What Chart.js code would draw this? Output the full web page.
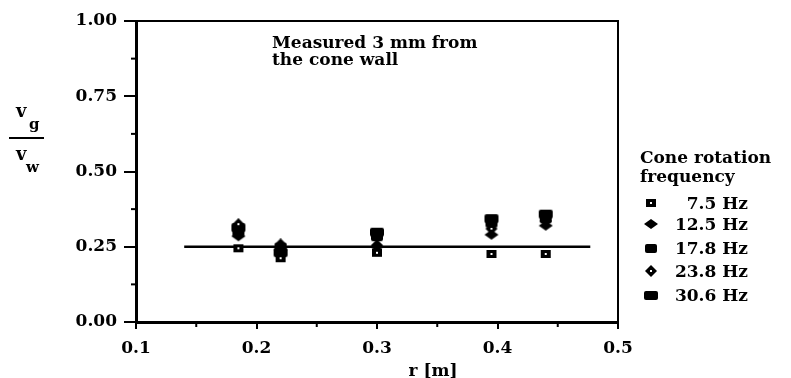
<!DOCTYPE html>
<html>
<head>
<meta charset="utf-8">
<script src="https://cdn.jsdelivr.net/npm/chart.js@4/dist/chart.umd.min.js"></script>
<style>
  html, body { margin: 0; padding: 0; background: #fff; }
  #wrap { width: 791px; height: 378px; }
</style>
</head>
<body>
<div id="wrap"><canvas id="c" width="791" height="378"></canvas></div>
<script>
// Radial positions r [m] where the gas velocity ratio was measured
const radii = [0.185, 0.22, 0.30, 0.395, 0.44];

// v_g / v_w for each cone rotation frequency
const ratio7_5  = [0.245, 0.212, 0.230, 0.226, 0.226];
const ratio12_5 = [0.285, 0.240, 0.250, 0.290, 0.320];
const ratio17_8 = [0.300, 0.250, 0.285, 0.330, 0.345];
const ratio23_8 = [0.325, 0.258, 0.255, 0.310, 0.335];
const ratio30_6 = [0.315, 0.232, 0.300, 0.345, 0.360];

const freqLabels = ['7.5 Hz', '12.5 Hz', '17.8 Hz', '23.8 Hz', '30.6 Hz'];

// Reference level line
const refLineX = [0.14, 0.477];
const refLineY = [0.25, 0.25];

const xTicks = [0.1, 0.2, 0.3, 0.4, 0.5];
const yTicks = [0.00, 0.25, 0.50, 0.75, 1.00];
const xMinor = [0.15, 0.25, 0.35, 0.45];
const yMinor = [0.125, 0.375, 0.625, 0.875];

const SERIF = '"DejaVu Serif", "Liberation Serif", serif';

// Marker glyphs
function marker(kind) {
  const c = document.createElement('canvas');
  c.width = 16; c.height = 12;
  const g = c.getContext('2d');
  g.fillStyle = '#000';
  if (kind === 'sqHole') {
    g.fillRect(3, 2, 10, 8);
    g.fillStyle = '#fff';
    g.fillRect(7, 5, 2, 2);
  } else if (kind === 'diamond') {
    g.beginPath();
    g.moveTo(8, 1); g.lineTo(15, 6); g.lineTo(8, 11); g.lineTo(1, 6); g.closePath();
    g.fill();
  } else if (kind === 'sq') {
    g.beginPath();
    g.roundRect(2, 2, 12, 9, 2);
    g.fill();
  } else if (kind === 'diamondDot') {
    g.beginPath();
    g.moveTo(8, 0); g.lineTo(14, 6); g.lineTo(8, 12); g.lineTo(2, 6); g.closePath();
    g.fill();
    g.fillStyle = '#fff';
    g.fillRect(7, 5, 2, 2);
  } else {
    g.beginPath();
    g.roundRect(1, 2, 14, 9, 2);
    g.fill();
  }
  return c;
}
const markerKinds = ['sqHole', 'diamond', 'sq', 'diamondDot', 'sqWide'];
const seriesValues = [ratio7_5, ratio12_5, ratio17_8, ratio23_8, ratio30_6];

const scatterSets = seriesValues.map((vals, i) => ({
  type: 'scatter',
  label: freqLabels[i],
  data: radii.map((r, j) => ({ x: r, y: vals[j] })),
  pointStyle: marker(markerKinds[i]),
  pointRadius: 6,
  pointHoverRadius: 6,
  order: 1
}));

const refSet = {
  type: 'line',
  label: 'ref',
  data: refLineX.map((x, i) => ({ x, y: refLineY[i] })),
  borderColor: '#000',
  borderWidth: 2.5,
  pointRadius: 0,
  order: 2
};

// Box frame, minor ticks, annotation, y-axis fraction, x title and legend
const decor = {
  id: 'decor',
  afterDraw(chart) {
    const { ctx, chartArea: a, scales } = chart;
    const xs = scales.x, ys = scales.y;
    ctx.save();
    ctx.strokeStyle = '#000';
    ctx.lineCap = 'square';
    // top and right of the frame
    ctx.lineWidth = 2;
    ctx.beginPath();
    ctx.moveTo(a.left, a.top); ctx.lineTo(a.right, a.top); ctx.lineTo(a.right, a.bottom);
    ctx.stroke();
    // minor ticks
    yMinor.forEach(v => {
      const y = ys.getPixelForValue(v);
      ctx.beginPath(); ctx.moveTo(a.left - 4, y); ctx.lineTo(a.left, y); ctx.stroke();
    });
    xMinor.forEach(v => {
      const x = xs.getPixelForValue(v);
      ctx.beginPath(); ctx.moveTo(x, a.bottom); ctx.lineTo(x, a.bottom + 4); ctx.stroke();
    });

    ctx.fillStyle = '#000';
    ctx.textBaseline = 'alphabetic';
    // annotation in the plot
    ctx.font = 'bold 17px ' + SERIF;
    ctx.textAlign = 'left';
    ctx.fillText('Measured 3 mm from', 272, 48);
    ctx.fillText('the cone wall', 272, 65);

    // y-axis label as a fraction v_g / v_w
    ctx.font = 'bold 18px ' + SERIF;
    ctx.fillText('v', 16, 117);
    ctx.fillText('v', 16, 160);
    ctx.font = 'bold 15px ' + SERIF;
    ctx.fillText('g', 29, 129);
    ctx.fillText('w', 26, 172);
    ctx.lineWidth = 2;
    ctx.beginPath(); ctx.moveTo(10, 138); ctx.lineTo(43, 138); ctx.stroke();

    // x-axis title
    ctx.font = 'bold 17px ' + SERIF;
    ctx.textAlign = 'center';
    ctx.fillText('r [m]', 433, 376);

    // legend
    ctx.textAlign = 'left';
    ctx.fillText('Cone rotation', 640, 163);
    ctx.fillText('frequency', 640, 182);
    const rows = [203, 224, 248, 271, 295];
    chart.data.datasets.forEach(ds => {
      const i = freqLabels.indexOf(ds.label);
      if (i < 0) return;
      const y = rows[i];
      const img = ds.pointStyle;
      ctx.drawImage(img, 651 - img.width / 2, y - img.height / 2);
      ctx.textAlign = 'right';
      ctx.fillText(ds.label, 748, y + 6);
    });
    ctx.restore();
  }
};

new Chart(document.getElementById('c'), {
  data: { datasets: [...scatterSets, refSet] },
  options: {
    responsive: false,
    animation: false,
    events: [],
    layout: { padding: { left: 0, top: 21, right: 173, bottom: 0 } },
    plugins: { legend: { display: false }, tooltip: { enabled: false } },
    scales: {
      x: {
        type: 'linear',
        min: 0.1, max: 0.5,
        afterBuildTicks: s => { s.ticks = xTicks.map(v => ({ value: v })); },
        afterFit: s => { s.height = 56; },
        ticks: {
          callback: v => v.toFixed(1),
          color: '#000',
          font: { family: SERIF, size: 17, weight: 'bold' },
          padding: 9,
          maxRotation: 0
        },
        grid: { drawOnChartArea: false, color: '#000', lineWidth: 2, tickLength: 7 },
        border: { color: '#000', width: 3 }
      },
      y: {
        type: 'linear',
        min: 0, max: 1,
        afterBuildTicks: s => { s.ticks = yTicks.map(v => ({ value: v })); },
        afterFit: s => { s.width = 136; },
        ticks: {
          callback: v => v.toFixed(2),
          color: '#000',
          font: { family: SERIF, size: 17, weight: 'bold' },
          padding: 7
        },
        grid: { drawOnChartArea: false, color: '#000', lineWidth: 2, tickLength: 12 },
        border: { color: '#000', width: 3 }
      }
    }
  },
  plugins: [decor]
});
</script>
</body>
</html>
